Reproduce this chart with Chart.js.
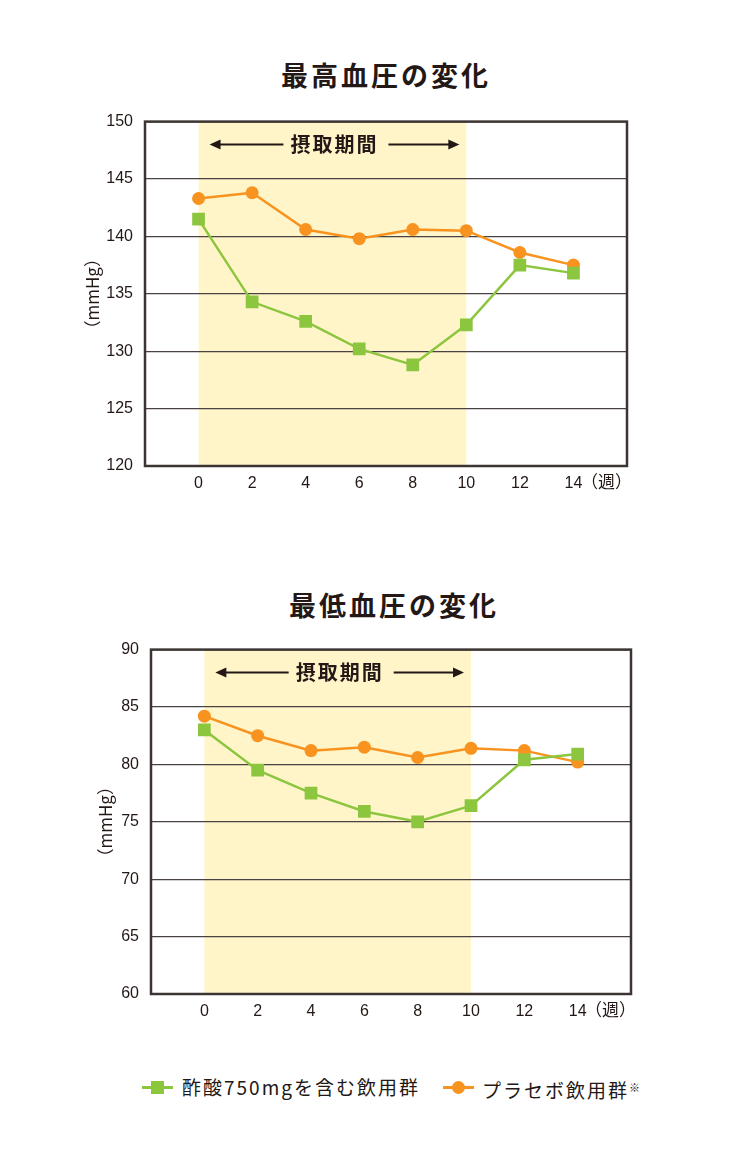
<!DOCTYPE html>
<html>
<head>
<meta charset="utf-8">
<script src="https://cdn.jsdelivr.net/npm/chart.js@4"></script>
<style>
  body { margin: 0; background: #fff; }
  #wrap { position: relative; width: 750px; height: 1158px; background: #fff; color: #231815; font-family: "Noto Sans CJK JP", "Noto Sans", sans-serif; }
  .title { position: absolute; width: 400px; text-align: center; font-size: 27px; line-height: 27px; font-weight: bold; letter-spacing: 3px; }
  .cv { position: absolute; left: 0; }
  .leg { position: absolute; font-size: 19px; line-height: 20px; letter-spacing: 2px; }
  .legline { position: absolute; height: 3px; }
  .sq { position: absolute; width: 13px; height: 13px; background: #8cc63f; }
  .dot { position: absolute; width: 13px; height: 13px; border-radius: 50%; background: #f7931e; }
  sup { font-size: 11px; vertical-align: 6px; letter-spacing: 0; }
</style>
</head>
<body>
<div id="wrap">
  <div class="title" style="left:186px; top:61px;">最高血圧の変化</div>
  <div class="cv" style="top:100px; width:750px; height:400px;"><canvas id="chart1"></canvas></div>

  <div class="title" style="left:194px; top:591px;">最低血圧の変化</div>
  <div class="cv" style="top:628px; width:750px; height:400px;"><canvas id="chart2"></canvas></div>

  <div class="legline" style="left:142px; top:1086px; width:31px; background:#8cc63f;"></div>
  <div class="sq" style="left:151px; top:1081px;"></div>
  <div class="leg" style="left:182px; top:1077px;">酢酸750mgを含む飲用群</div>
  <div class="legline" style="left:443px; top:1086px; width:31px; background:#f7931e;"></div>
  <div class="dot" style="left:452px; top:1081px;"></div>
  <div class="leg" style="left:482px; top:1077px;">プラセボ飲用群<sup>※</sup></div>
</div>

<script>
var weeks = [0, 2, 4, 6, 8, 10, 12, 14];

// 最高血圧
var highAcetic  = [141.5, 134.3, 132.6, 130.2, 128.8, 132.3, 137.5, 136.8];
var highPlacebo = [143.3, 143.8, 140.6, 139.8, 140.6, 140.5, 138.6, 137.5];
// 最低血圧
var lowAcetic   = [83.0, 79.5, 77.5, 75.9, 75.0, 76.4, 80.4, 80.9];
var lowPlacebo  = [84.2, 82.5, 81.2, 81.5, 80.6, 81.4, 81.2, 80.2];

var intakeStart = 0, intakeEnd = 10;
var seriesNames = ['酢酸750mgを含む飲用群', 'プラセボ飲用群'];

var GREEN = '#8cc63f', ORANGE = '#f7931e', INK = '#231815';

function pts(vals) {
  return weeks.map(function(w, i) { return {x: w, y: vals[i]}; });
}

// yellow band + frame + arrow label
var intakePlugin = {
  id: 'intake',
  beforeDraw: function(chart) {
    var c = chart.ctx, a = chart.chartArea, xs = chart.scales.x;
    var x0 = xs.getPixelForValue(intakeStart), x1 = xs.getPixelForValue(intakeEnd);
    c.save();
    c.fillStyle = '#fff5c9';
    c.fillRect(x0, a.top, x1 - x0, a.bottom - a.top);
    c.restore();
  },
  beforeDatasetsDraw: function(chart) {
    var c = chart.ctx, a = chart.chartArea, xs = chart.scales.x;
    c.save();
    c.strokeStyle = '#3b3432';
    c.lineWidth = 2.5;
    c.strokeRect(a.left, a.top, a.right - a.left, a.bottom - a.top);

    var x0 = xs.getPixelForValue(intakeStart), x1 = xs.getPixelForValue(intakeEnd);
    var mid = (x0 + x1) / 2 + 1, y = a.top + 23;
    c.fillStyle = INK;
    c.strokeStyle = INK;
    c.font = 'bold 20px "Noto Sans CJK JP"';
    c.letterSpacing = '2px';
    c.textAlign = 'center';
    c.textBaseline = 'middle';
    c.fillText('摂取期間', mid + 1, y);
    c.letterSpacing = '0px';

    c.lineWidth = 2;
    c.beginPath();
    c.moveTo(x0 + 20, y); c.lineTo(mid - 50, y);
    c.moveTo(mid + 55, y); c.lineTo(x1 - 15, y);
    c.stroke();
    // arrow heads
    c.beginPath();
    c.moveTo(x0 + 11, y); c.lineTo(x0 + 22, y - 5); c.lineTo(x0 + 22, y + 5); c.closePath();
    c.moveTo(x1 - 7, y); c.lineTo(x1 - 18, y - 5); c.lineTo(x1 - 18, y + 5); c.closePath();
    c.fill();

    // (週)
    c.font = '17px "Noto Sans CJK JP"';
    c.textAlign = 'right';
    c.fillText('（週）', a.right + 5, a.bottom + 16);
    c.restore();
  }
};

function makeChart(id, acetic, placebo, yMin, yMax, padLeft, padRight) {
  var areaLeft = padLeft.area;
  var config = {
    type: 'line',
    data: {
      datasets: [{
        label: seriesNames[0],
        data: pts(acetic),
        borderColor: GREEN,
        backgroundColor: GREEN,
        borderWidth: 2.5,
        pointStyle: 'rect',
        pointRadius: 9,
        pointHoverRadius: 9,
        pointBorderWidth: 0,
        tension: 0
      }, {
        label: seriesNames[1],
        data: pts(placebo),
        borderColor: ORANGE,
        backgroundColor: ORANGE,
        borderWidth: 2.5,
        pointStyle: 'circle',
        pointRadius: 6.5,
        pointHoverRadius: 6.5,
        pointBorderWidth: 0,
        tension: 0
      }]
    },
    options: {
      responsive: true,
      maintainAspectRatio: false,
      animation: false,
      events: [],
      layout: { padding: { left: padLeft.title, right: padRight, top: 20, bottom: 0 } },
      plugins: {
        legend: { display: false },
        tooltip: { enabled: false }
      },
      scales: {
        x: {
          type: 'linear',
          min: -2,
          max: 16,
          afterFit: function(s) { s.height = 34; },
          grid: { display: false, drawTicks: false },
          border: { display: false },
          ticks: {
            stepSize: 2,
            autoSkip: false,
            maxRotation: 0,
            padding: 8,
            color: INK,
            font: { size: 16, family: '"Liberation Sans", Arial, sans-serif' },
            callback: function(v) { return (v < 0 || v > 14) ? '' : v; }
          }
        },
        y: {
          min: yMin,
          max: yMax,
          afterFit: function(s) { s.width = areaLeft - padLeft.title; },
          grid: { color: '#4a4242', lineWidth: 1.2, drawTicks: false },
          border: { display: false },
          title: {
            display: true,
            text: '（mmHg）',
            color: INK,
            padding: { top: 0, bottom: 0 },
            font: { size: 17, family: '"Noto Sans CJK JP"', weight: 'normal' }
          },
          ticks: {
            stepSize: 5,
            padding: 12,
            color: INK,
            font: { size: 16, family: '"Liberation Sans", Arial, sans-serif' }
          }
        }
      }
    },
    plugins: [intakePlugin]
  };
  return new Chart(document.getElementById(id), config);
}

makeChart('chart1', highAcetic, highPlacebo, 120, 150, {title: 82, area: 145}, 123);
makeChart('chart2', lowAcetic, lowPlacebo, 60, 90, {title: 95, area: 151}, 119);
</script>
</body>
</html>
